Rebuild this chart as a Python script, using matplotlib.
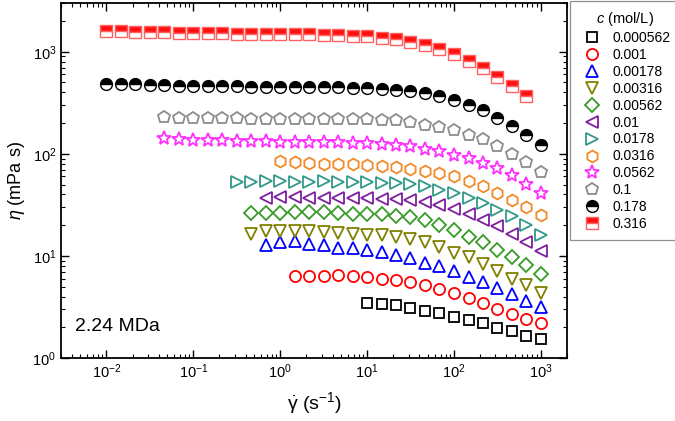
import numpy as np
import matplotlib
matplotlib.use('Agg')
from matplotlib import pyplot as plt

plt.rcParams['font.family'] = ['Liberation Sans', 'DejaVu Sans']
plt.rcParams['mathtext.fontset'] = 'custom'
plt.rcParams['mathtext.rm'] = 'Liberation Sans'
plt.rcParams['mathtext.it'] = 'Liberation Sans:italic'

# shear rates (1/s), common grid for all series
gamma = [0.01, 0.0147, 0.0215, 0.0316, 0.0464, 0.0681,
         0.1, 0.147, 0.215, 0.316, 0.464, 0.681,
         1.0, 1.47, 2.15, 3.16, 4.64, 6.81,
         10., 14.7, 21.5, 31.6, 46.4, 68.1,
         100., 147., 215., 316., 464., 681., 1000.]

conc = ['0.000562', '0.001', '0.00178', '0.00316', '0.00562', '0.01',
        '0.0178', '0.0316', '0.0562', '0.1', '0.178', '0.316']

# index of first shear rate in gamma for each series
start = [18, 13, 11, 10, 10, 11, 9, 12, 4, 4, 0, 0]

# viscosity (mPa s)
eta_000562 = [3.44, 3.40, 3.27, 3.11, 2.92, 2.75, 2.55, 2.37, 2.19, 1.98, 1.82, 1.66, 1.54]
eta_0001 = [6.34, 6.30, 6.30, 6.44, 6.30, 6.22, 5.98, 5.84, 5.54, 5.22, 4.75, 4.32,
            3.86, 3.44, 3.03, 2.71, 2.41, 2.18]
eta_00178 = [12.9, 13.6, 13.9, 13.2, 12.7, 12.0, 12.0, 11.4, 10.9, 10.3, 9.45, 8.54,
             7.89, 7.12, 6.25, 5.50, 4.80, 4.19, 3.62, 3.16]
eta_00316 = [16.5, 17.4, 17.4, 17.4, 17.4, 17.1, 16.9, 16.5, 16.2, 15.9, 15.2, 14.5,
             13.6, 12.3, 10.8, 9.7, 8.4, 7.05, 5.95, 5.14, 4.29]
eta_00562 = [26.3, 26.5, 26.6, 26.7, 26.9, 26.9, 26.5, 25.9, 25.9, 25.5, 24.8, 23.8,
             22.3, 20.0, 17.8, 15.4, 13.7, 11.5, 9.7, 8.07, 6.69]
eta_001 = [37.2, 37.6, 37.6, 37.2, 37.2, 37.0, 37.0, 36.6, 36.4, 36.2, 35.0, 33.7,
           31.3, 29.0, 25.9, 22.3, 19.5, 16.5, 13.7, 11.3]
eta_0178 = [53.0, 53.5, 53.8, 53.8, 53.5, 53.0, 53.8, 53.5, 53.0, 53.0, 52.2, 52.0,
            50.2, 48.0, 44.5, 41.3, 37.2, 33.0, 28.4, 24.4, 19.9, 16.2]
eta_0316 = [86., 84., 81., 80., 79., 79., 78., 76., 74., 71.6, 67.8, 64.8,
            60.1, 54.1, 48.0, 41.3, 35.6, 29.9, 24.9]
eta_0562 = [144., 140., 138., 137., 136., 135., 134., 133., 132., 131., 131., 131.,
            131., 129., 128., 126., 123., 119., 112., 106., 98., 91., 81., 72.,
            61.5, 51., 41.7]
eta_01 = [229., 225., 224., 223., 222., 222., 221., 221., 221., 221., 221., 221.,
          221., 218., 218., 216., 213., 205., 193., 183., 170., 154., 139., 119.,
          100., 83., 66.]
eta_178 = [488., 482., 478., 474., 470., 467., 465., 462., 460., 458., 456., 455.,
           454., 453., 452., 452., 452., 446., 442., 436., 426., 413., 395., 366.,
           335., 299., 267., 226., 186., 154., 121.]
eta_316 = [1590., 1580., 1565., 1555., 1545., 1535., 1525., 1515., 1510., 1500., 1495., 1490.,
           1490., 1485., 1484., 1475., 1452., 1442., 1419., 1377., 1326., 1259., 1177., 1059.,
           945., 812., 694., 566., 466., 366.]

eta = [eta_000562, eta_0001, eta_00178, eta_00316, eta_00562, eta_001,
       eta_0178, eta_0316, eta_0562, eta_01, eta_178, eta_316]

colors = ['black', '#ff0000', '#0000ff', '#808000', '#3a9a2a', '#7f1f9f',
          '#339988', '#f28a2a', '#ff30ff', '#8c8c8c', 'black', '#ff1010']
markers = ['s', 'o', '^', 'v', 'D', '<', '>', 'h', '*', 'p', 'o', 's']
sizes = [7.5, 8, 8.5, 8.5, 7.5, 8.5, 8.5, 8.5, 10.5, 9, 8.5, 8]

fig = plt.figure(figsize=(6.75, 4.21), dpi=100)
ax = fig.add_axes([0.0904, 0.1496, 0.7496, 0.8432])

for i in range(len(conc)):
    x = gamma[start[i]:start[i] + len(eta[i])]
    if i == 10:
        ax.plot(x, eta[i], ls='none', marker='o', ms=sizes[i], fillstyle='top',
                mfc='black', mfcalt='white', mec='black', mew=1.0, label=conc[i])
    elif i == 11:
        ax.plot(x, eta[i], ls='none', marker='s', ms=sizes[i], fillstyle='top',
                mfc='#ff1010', mfcalt='white', mec='#ff6060', mew=1.0, label=conc[i])
    else:
        ax.plot(x, eta[i], ls='none', marker=markers[i], ms=sizes[i], mfc='none',
                mec=colors[i], mew=1.3, label=conc[i])

ax.set_xscale('log')
ax.set_yscale('log')
ax.set_xlim(0.003, 2000)
ax.set_ylim(1, 3000)
ax.set_xticks([1e-2, 1e-1, 1e0, 1e1, 1e2, 1e3])
ax.set_yticks([1e0, 1e1, 1e2, 1e3])
ax.tick_params(which='both', direction='in', top=True, right=True, labelsize=10.5)
ax.tick_params(which='major', length=6, width=1.0)
ax.tick_params(which='minor', length=3, width=0.8)
for s in ax.spines.values():
    s.set_linewidth(1.3)

ax.set_xlabel(r'$\dot{\mathrm{\gamma}}$ (s$^{-1}$)', fontsize=14, labelpad=6)
ax.set_ylabel(r'$\eta$ (mPa s)', fontsize=13, labelpad=4)
ax.text(0.027, 0.075, '2.24 MDa', transform=ax.transAxes, fontsize=14)

leg = ax.legend(loc='upper left', bbox_to_anchor=(570 / 675, 1 - 1 / 421),
                bbox_transform=fig.transFigure, borderaxespad=0, fontsize=10,
                title=r'$c$ (mol/L)', title_fontsize=10.5, numpoints=1,
                handlelength=1.9, handletextpad=0.5, labelspacing=0.21,
                fancybox=False, edgecolor='#909090', framealpha=1,
                borderpad=0.65)
leg.get_frame().set_linewidth(0.9)

fig.savefig('out.png', dpi=100)
